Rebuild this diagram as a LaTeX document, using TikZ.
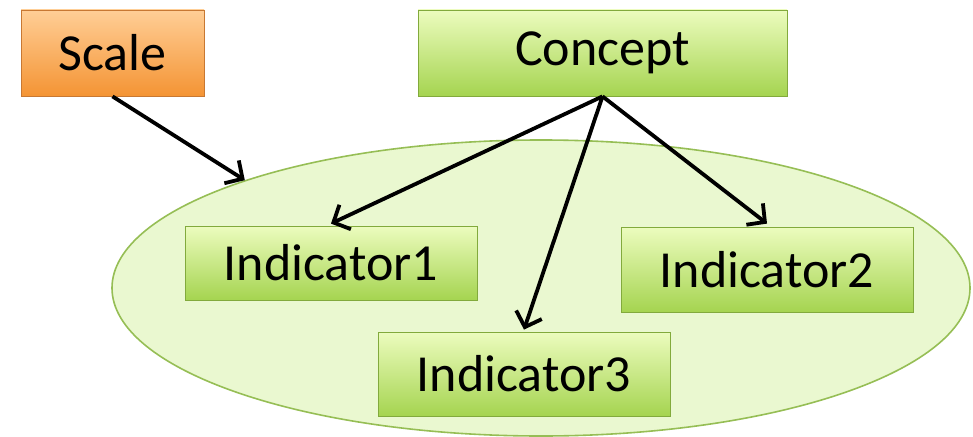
\documentclass[tikz,border=0pt]{standalone}
\usepackage{fontspec}
\setmainfont{Carlito}
\usepackage{tikz}
\usetikzlibrary{shapes.geometric,arrows.meta}

\definecolor{leafhi}{RGB}{236,252,190}
\definecolor{leaflo}{RGB}{165,212,80}
\definecolor{leafrim}{RGB}{130,170,60}
\definecolor{orangehi}{RGB}{255,206,150}
\definecolor{orangelo}{RGB}{244,148,52}
\definecolor{orangerim}{RGB}{200,120,50}
\definecolor{groupfill}{RGB}{234,248,208}
\definecolor{grouprim}{RGB}{150,190,85}

\tikzset{
  greenbox/.style={draw=leafrim, line width=0.8pt, top color=leafhi, bottom color=leaflo,
    inner sep=0pt, font=\fontsize{52}{60}\selectfont},
  orangebox/.style={draw=orangerim, line width=0.8pt, top color=orangehi, bottom color=orangelo,
    inner sep=0pt, font=\fontsize{52}{60}\selectfont},
  link/.style={line width=3.8pt, -{Straight Barb[length=13pt,width=27pt,line width=3.8pt]}}
}

\begin{document}
\begin{tikzpicture}[x=1pt,y=-1pt]
\useasboundingbox (0,0) rectangle (973,436);

% the set of indicators
\node[ellipse, draw=grouprim, line width=1.6pt, fill=groupfill,
      minimum width=858pt, minimum height=296pt] (group) at (541,288) {};

\node[orangebox, minimum width=183pt, minimum height=86pt] (scale) at (112.5,53) {Scale};
\node[greenbox, minimum width=369pt, minimum height=86pt] (concept) at (602.5,53) {Concept};

\node[greenbox, minimum width=292pt, minimum height=74pt] (ind1) at (331,263) {Indicator1};
\node[greenbox, minimum width=292pt, minimum height=85pt] (ind2) at (767,269.5) {Indicator2};
\node[greenbox, minimum width=292pt, minimum height=84pt] (ind3) at (524,374) {Indicator3};

\draw[link] (scale.south) -- (group.160.7);
\draw[link] (concept.south) -- ([yshift=2pt]ind1.north);
\draw[link] (concept.south) -- ([yshift=2pt]ind3.north);
\draw[link] (concept.south) -- ([yshift=3pt]ind2.north);

\end{tikzpicture}
\end{document}
